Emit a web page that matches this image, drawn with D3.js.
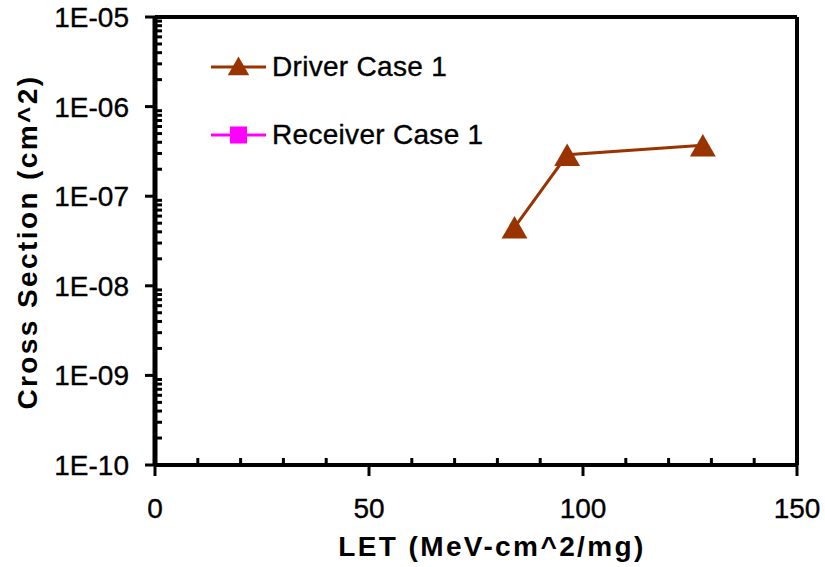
<!DOCTYPE html>
<html>
<head>
<meta charset="utf-8">
<script src="https://cdn.jsdelivr.net/npm/d3@7"></script>
<style>
  body { margin: 0; background: #fff; }
  svg { display: block; font-family: "Liberation Sans", Arial, sans-serif; }
  .lbl { stroke: #000; stroke-width: 0.35px; }
</style>
</head>
<body>
<svg id="chart" width="825" height="567"></svg>
<script>
// Series data
const driverLET = [84, 96.3, 128];
const driverXS = [4.5e-8, 2.9e-7, 3.7e-7];
const receiverLET = [];
const receiverXS = [];

const xTicks = [0, 50, 100, 150];
const yTicks = [1e-10, 1e-9, 1e-8, 1e-7, 1e-6, 1e-5];
const yTickLabels = ["1E-10", "1E-09", "1E-08", "1E-07", "1E-06", "1E-05"];
const legendNames = ["Driver Case 1", "Receiver Case 1"];

const margin = { top: 17, right: 28, bottom: 102, left: 155 };
const width = 825, height = 567;
const svg = d3.select('#chart');

const x = d3.scaleLinear().domain([0, 150]).range([margin.left, width - margin.right]);
const y = d3.scaleLog().domain([1e-10, 1e-5]).range([height - margin.bottom, margin.top]);

const x0 = x(0), x1 = x(150), y0 = y(1e-10), y1 = y(1e-5);

// minor ticks on x (inside), every 10
const xMinor = d3.range(10, 150, 10).filter(v => v % 50 !== 0);
svg.append('g').selectAll('line').data(xMinor).enter().append('line')
    .attr('x1', d => x(d)).attr('x2', d => x(d))
    .attr('y1', y0).attr('y2', y0 - 7)
    .attr('stroke', '#000').attr('stroke-width', 3);

// major ticks on x (outside)
svg.append('g').selectAll('line').data(xTicks).enter().append('line')
    .attr('x1', d => x(d)).attr('x2', d => x(d))
    .attr('y1', y0).attr('y2', y0 + 11)
    .attr('stroke', '#000').attr('stroke-width', 3);

// minor log ticks on y (inside)
const yMinor = [];
for (let e = -10; e < -5; e++) {
    for (let m = 2; m <= 9; m++) yMinor.push(m * Math.pow(10, e));
}
svg.append('g').selectAll('line').data(yMinor).enter().append('line')
    .attr('x1', x0).attr('x2', x0 + 7)
    .attr('y1', d => y(d)).attr('y2', d => y(d))
    .attr('stroke', '#000').attr('stroke-width', 3);

// major ticks on y (outside)
svg.append('g').selectAll('line').data(yTicks).enter().append('line')
    .attr('x1', x0 - 10).attr('x2', x0)
    .attr('y1', d => y(d)).attr('y2', d => y(d))
    .attr('stroke', '#000').attr('stroke-width', 3);

// frame
svg.append('line').attr('x1', x0).attr('x2', x1).attr('y1', y1).attr('y2', y1)
    .attr('stroke', '#000').attr('stroke-width', 4);
svg.append('line').attr('x1', x1).attr('x2', x1).attr('y1', y1).attr('y2', y0)
    .attr('stroke', '#000').attr('stroke-width', 4);
svg.append('line').attr('x1', x0).attr('x2', x1).attr('y1', y0).attr('y2', y0)
    .attr('stroke', '#000').attr('stroke-width', 4);
svg.append('line').attr('x1', x0).attr('x2', x0).attr('y1', y1).attr('y2', y0)
    .attr('stroke', '#000').attr('stroke-width', 5);

// tick labels
svg.append('g').selectAll('text').data(xTicks).enter().append('text')
    .attr('class', 'lbl')
    .attr('x', d => x(d)).attr('y', 518)
    .attr('text-anchor', 'middle').attr('font-size', 28)
    .text(d => d);

svg.append('g').selectAll('text').data(yTicks).enter().append('text')
    .attr('class', 'lbl')
    .attr('x', 129).attr('y', d => y(d) + 10)
    .attr('text-anchor', 'end').attr('font-size', 28)
    .text((d, i) => yTickLabels[i]);

// axis titles
svg.append('text').attr('x', 492).attr('y', 556)
    .attr('text-anchor', 'middle').attr('font-size', 28).attr('font-weight', 'bold')
    .attr('letter-spacing', 2.4)
    .text('LET (MeV-cm^2/mg)');

svg.append('text')
    .attr('transform', `translate(37,242) rotate(-90)`)
    .attr('text-anchor', 'middle').attr('font-size', 28).attr('font-weight', 'bold')
    .attr('letter-spacing', 2.4)
    .text('Cross Section (cm^2)');

// series
const triSize = 290;
const triH = Math.sqrt(triSize * Math.sqrt(3));
const triangle = d3.symbol().type(d3.symbolTriangle).size(triSize);
const legendTri = d3.symbol().type(d3.symbolTriangle).size(200);
const square = d3.symbol().type(d3.symbolSquare).size(290);

const driver = driverLET.map((v, i) => [v, driverXS[i]]);
const receiver = receiverLET.map((v, i) => [v, receiverXS[i]]);
const line = d3.line().x(d => x(d[0])).y(d => y(d[1]));

svg.append('path').datum(driver).attr('d', line)
    .attr('fill', 'none').attr('stroke', '#993300').attr('stroke-width', 3);
svg.append('g').selectAll('path').data(driver).enter().append('path')
    .attr('d', triangle)
    .attr('transform', d => `translate(${x(d[0])},${y(d[1]) + triH / 6})`)
    .attr('fill', '#993300');

svg.append('path').datum(receiver).attr('d', line)
    .attr('fill', 'none').attr('stroke', '#ff00ff').attr('stroke-width', 3);
svg.append('g').selectAll('path').data(receiver).enter().append('path')
    .attr('d', square)
    .attr('transform', d => `translate(${x(d[0])},${y(d[1])})`)
    .attr('fill', '#ff00ff');

// legend
const legendColors = ['#993300', '#ff00ff'];
const legendSyms = [legendTri, square];
const legend = svg.append('g').selectAll('g').data(legendNames).enter().append('g')
    .attr('transform', (d, i) => `translate(211,${67 + i * 68})`);
legend.append('line').attr('x1', 0).attr('x2', 55).attr('y1', 0).attr('y2', 0)
    .attr('stroke', (d, i) => legendColors[i]).attr('stroke-width', 3);
legend.append('path').attr('d', (d, i) => legendSyms[i]())
    .attr('transform', (d, i) => `translate(27.5,${i === 0 ? 2 : 0})`)
    .attr('fill', (d, i) => legendColors[i]);
legend.append('text').attr('class', 'lbl')
    .attr('x', 61).attr('y', 9).attr('font-size', 28)
    .attr('letter-spacing', 0.3)
    .text(d => d);
</script>
</body>
</html>
